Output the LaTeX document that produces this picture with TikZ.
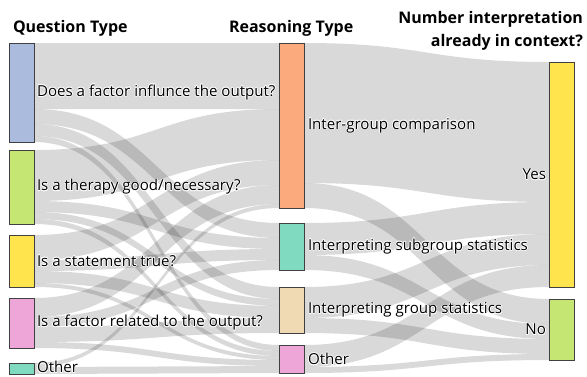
\documentclass[tikz,border=0pt]{standalone}
\usepackage{fontspec}
\setmainfont{Open Sans}
\usetikzlibrary{calc}
\pgfdeclarelayer{bg}
\pgfsetlayers{bg,main}
\definecolor{cblue}{HTML}{AABBDE}
\definecolor{cgreen}{HTML}{C5E673}
\definecolor{cyellow}{HTML}{FFE44D}
\definecolor{cpink}{HTML}{EEA6D8}
\definecolor{cteal}{HTML}{80DAC0}
\definecolor{corange}{HTML}{FAAA7D}
\definecolor{ctan}{HTML}{F0DAB4}
\newcommand\halotxt[1]{\leavevmode
  \rlap{\color{white}\kern-0.7pt #1}\rlap{\color{white}\kern0.7pt #1}%
  \rlap{\color{white}\raisebox{0.7pt}{#1}}\rlap{\color{white}\raisebox{-0.7pt}{#1}}%
  \rlap{\color{white}\kern-0.5pt\raisebox{0.5pt}{#1}}\rlap{\color{white}\kern0.5pt\raisebox{0.5pt}{#1}}%
  \rlap{\color{white}\kern-0.5pt\raisebox{-0.5pt}{#1}}\rlap{\color{white}\kern0.5pt\raisebox{-0.5pt}{#1}}%
  #1}
\tikzset{
  sknode/.style={draw=black!75, line width=0.9pt, inner sep=0pt, outer sep=0pt, minimum width=25pt, anchor=north west},
  band/.style={fill=black, fill opacity=0.15},
  lbl/.style={font=\fontsize{15.1}{17}\selectfont, inner sep=0pt, outer sep=0pt},
  ttl/.style={font=\fontsize{16}{19}\selectfont\bfseries, inner sep=0pt, outer sep=0pt},
}
\newcommand\skband[5]{%
  \fill[band] ([yshift={-(#2)*1pt}]#1.north east) .. controls +(122,0) and +(-122,0) ..
    ([yshift={-(#4)*1pt}]#3.north west) -- ([yshift={-(#4+#5)*1pt}]#3.north west)
    .. controls +(-122,0) and +(122,0) .. ([yshift={-(#2+#5)*1pt}]#1.north east) -- cycle;}
\begin{document}
\begin{tikzpicture}[x=1pt, y=-1pt]
\useasboundingbox (0,0) rectangle (587,376);
% nodes
\node[sknode, fill=cblue,   minimum height=99pt]  (q1) at (9,43) {};
\node[sknode, fill=cgreen,  minimum height=74pt]  (q2) at (9,150) {};
\node[sknode, fill=cyellow, minimum height=52pt]  (q3) at (9,235) {};
\node[sknode, fill=cpink,   minimum height=50pt]  (q4) at (9,298) {};
\node[sknode, fill=cteal,   minimum height=11pt]  (q5) at (9,363) {};
\node[sknode, fill=corange, minimum height=165pt] (r1) at (279,43) {};
\node[sknode, fill=cteal,   minimum height=47pt]  (r2) at (279,223) {};
\node[sknode, fill=ctan,    minimum height=46pt]  (r3) at (279,287) {};
\node[sknode, fill=cpink,   minimum height=28pt]  (r4) at (279,345) {};
\node[sknode, fill=cyellow, minimum height=225pt] (yes) at (549,62) {};
\node[sknode, fill=cgreen,  minimum height=61pt]  (no) at (549,299) {};
% bands
\begin{pgfonlayer}{bg}
\skband{q1}{0}{r1}{0}{66}
\skband{q1}{66}{r2}{0}{15}
\skband{q1}{81}{r3}{0}{12}
\skband{q1}{93}{r4}{0}{6}
\skband{q2}{0}{r1}{66}{51}
\skband{q2}{51}{r2}{15}{11}
\skband{q2}{62}{r3}{12}{7}
\skband{q2}{69}{r4}{6}{5}
\skband{q3}{0}{r1}{117}{25}
\skband{q3}{25}{r2}{26}{11}
\skband{q3}{36}{r3}{19}{12}
\skband{q3}{48}{r4}{11}{4}
\skband{q4}{0}{r1}{142}{19}
\skband{q4}{19}{r2}{37}{10}
\skband{q4}{29}{r3}{31}{15}
\skband{q4}{44}{r4}{15}{6}
\skband{q5}{0}{r1}{161}{4}
\skband{q5}{4}{r4}{21}{7}
\skband{r1}{0}{yes}{0}{140}
\skband{r1}{140}{no}{0}{25}
\skband{r2}{0}{yes}{140}{32}
\skband{r2}{32}{no}{25}{15}
\skband{r3}{0}{yes}{172}{31}
\skband{r3}{31}{no}{40}{15}
\skband{r4}{0}{yes}{203}{22}
\skband{r4}{22}{no}{55}{6}
\end{pgfonlayer}
% labels
\node[lbl, anchor=west] (lq1) at ([xshift=3pt]q1.east) {\halotxt{Does a factor influnce the output?}};
\node[lbl, anchor=west] (lq2) at ([xshift=3pt]q2.east) {\halotxt{Is a therapy good/necessary?}};
\node[lbl, anchor=west] (lq3) at ([xshift=3pt]q3.east) {\halotxt{Is a statement true?}};
\node[lbl, anchor=west] (lq4) at ([xshift=3pt]q4.east) {\halotxt{Is a factor related to the output?}};
\node[lbl, anchor=west] (lq5) at ([xshift=3pt,yshift=1.2pt]q5.east) {\halotxt{Other}};
\node[lbl, anchor=west] (lr1) at ([xshift=4pt]r1.east) {\halotxt{Inter-group comparison}};
\node[lbl, anchor=west] (lr2) at ([xshift=4pt]r2.east) {\halotxt{Interpreting subgroup statistics}};
\node[lbl, anchor=west] (lr3) at ([xshift=4pt]r3.east) {\halotxt{Interpreting group statistics}};
\node[lbl, anchor=west] (lr4) at ([xshift=4pt]r4.east) {\halotxt{Other}};
\node[lbl, anchor=east] (lyes) at ([xshift=-3pt]yes.west) {\halotxt{Yes}};
\node[lbl, anchor=east] (lno) at ([xshift=-3pt]no.west) {\halotxt{No}};
% titles
\node[ttl, anchor=base west] (t1) at (13,32) {Question Type};
\node[ttl, anchor=base west] (t2) at (229,32) {Reasoning Type};
\node[ttl, anchor=base east] (t3a) at (583,23) {Number interpretation};
\node[ttl, anchor=base east] (t3b) at (583,46) {already in context?};
\end{tikzpicture}
\end{document}
